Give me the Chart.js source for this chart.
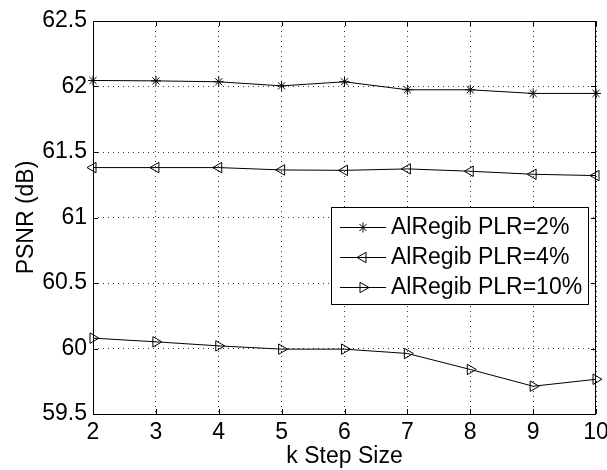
<!DOCTYPE html>
<html>
<head>
<meta charset="utf-8">
<script src="https://cdn.jsdelivr.net/npm/chart.js"></script>
<style>
    html, body { margin: 0; padding: 0; background: #fff; }
    #wrap { width: 607px; height: 470px; }
</style>
</head>
<body>
<div id="wrap"><canvas id="chart" width="607" height="470"></canvas></div>
<script>
const kSteps = [2, 3, 4, 5, 6, 7, 8, 9, 10];
const plr2 = [62.046, 62.043, 62.036, 62.005, 62.036, 61.975, 61.975, 61.947, 61.947];
const plr4 = [61.381, 61.381, 61.381, 61.363, 61.360, 61.371, 61.353, 61.330, 61.320];
const plr10 = [60.079, 60.051, 60.020, 59.995, 59.995, 59.962, 59.840, 59.712, 59.765];
const yTicks = [59.5, 60, 60.5, 61, 61.5, 62, 62.5];

const FONT = "'Liberation Sans', Arial, Helvetica, sans-serif";
Chart.defaults.font.family = FONT;
Chart.defaults.color = '#000';

// box around plot, inward ticks, legend inside the axes
const matlabBox = {
    id: 'matlabBox',
    afterDraw(chart) {
        const ctx = chart.ctx;
        const a = chart.chartArea;
        const xs = chart.scales.x, ys = chart.scales.y;
        ctx.save();
        ctx.strokeStyle = '#000';
        ctx.lineWidth = 1;
        ctx.strokeRect(a.left + 0.5, a.top + 0.5, a.right - a.left - 1, a.bottom - a.top);
        ctx.beginPath();
        xs.ticks.forEach((t, i) => {
            const x = Math.round(xs.getPixelForTick(i)) + 0.5;
            ctx.moveTo(x, a.bottom); ctx.lineTo(x, a.bottom - 5);
            ctx.moveTo(x, a.top); ctx.lineTo(x, a.top + 5);
        });
        ys.ticks.forEach(t => {
            const y = Math.round(ys.getPixelForValue(t.value)) + 0.5;
            ctx.moveTo(a.left, y); ctx.lineTo(a.left + 5, y);
            ctx.moveTo(a.right, y); ctx.lineTo(a.right - 5, y);
        });
        ctx.stroke();

        // legend
        ctx.font = '23px ' + FONT;
        const sets = chart.data.datasets;
        const textW = Math.max(...sets.map(d => ctx.measureText(d.label).width));
        const w = 60 + textW + 6;
        const right = a.right - 8;
        const left = Math.round(right - w);
        const top = a.top + 186;
        const h = 97;
        ctx.fillStyle = '#fff';
        ctx.fillRect(left, top, right - left, h);
        ctx.strokeRect(left + 0.5, top + 0.5, right - left, h);
        sets.forEach((d, i) => {
            const y = top + 20 + i * 30;
            ctx.beginPath();
            ctx.moveTo(left + 9, y + 0.5);
            ctx.lineTo(left + 55, y + 0.5);
            ctx.stroke();
            ctx.fillStyle = 'rgba(0,0,0,0)';
            Chart.helpers.drawPoint(ctx, {
                pointStyle: d.pointStyle, rotation: d.pointRotation || 0,
                radius: d.pointRadius, borderWidth: 1
            }, left + 32, y + 0.5);
            ctx.fillStyle = '#000';
            ctx.textAlign = 'left';
            ctx.textBaseline = 'middle';
            ctx.fillText(d.label, left + 60, y + 1);
        });
        ctx.restore();
    }
};

function series(label, values, style, rot, r) {
    return {
        label: label,
        data: values,
        borderColor: '#000',
        borderWidth: 1,
        pointStyle: style,
        pointRotation: rot,
        pointRadius: r,
        pointBorderWidth: 1,
        pointBorderColor: '#000',
        pointBackgroundColor: 'rgba(0,0,0,0)',
        tension: 0,
        clip: false
    };
}

const chart = document.querySelector('#chart').getContext('2d');

new Chart(chart, {
    type: 'line',
    data: {
        labels: kSteps,
        datasets: [
            series('AlRegib PLR=2%', plr2, 'star', 0, 5),
            series('AlRegib PLR=4%', plr4, 'triangle', -90, 6),
            series('AlRegib PLR=10%', plr10, 'triangle', 90, 6)
        ]
    },
    options: {
        responsive: false,
        animation: false,
        devicePixelRatio: 1,
        layout: { padding: { top: 21, right: 11, left: 0, bottom: 0 } },
        plugins: {
            legend: { display: false },
            tooltip: { enabled: false }
        },
        scales: {
            x: {
                type: 'category',
                offset: false,
                grid: { color: '#333', lineWidth: 1, drawTicks: false },
                border: { display: false, dash: [1, 4] },
                ticks: { font: { size: 23 }, padding: 5, maxRotation: 0, autoSkip: false },
                title: { display: true, text: 'k Step Size', font: { size: 23 }, padding: { top: 0, bottom: 0 } },
                afterFit: s => { s.height = 56; s.paddingLeft = 0; s.paddingRight = 0; }
            },
            y: {
                min: 59.5,
                max: 62.5,
                afterBuildTicks: s => { s.ticks = yTicks.map(v => ({ value: v })); },
                grid: { color: '#333', lineWidth: 1, drawTicks: false },
                border: { display: false, dash: [1, 4] },
                ticks: { font: { size: 23 }, padding: 6, callback: v => String(v) },
                title: { display: true, text: 'PSNR (dB)', font: { size: 23 }, padding: { top: 13, bottom: 0 } },
                afterFit: s => { s.width = 93; s.paddingTop = 0; s.paddingBottom = 0; }
            }
        }
    },
    plugins: [matlabBox]
});
</script>
</body>
</html>
